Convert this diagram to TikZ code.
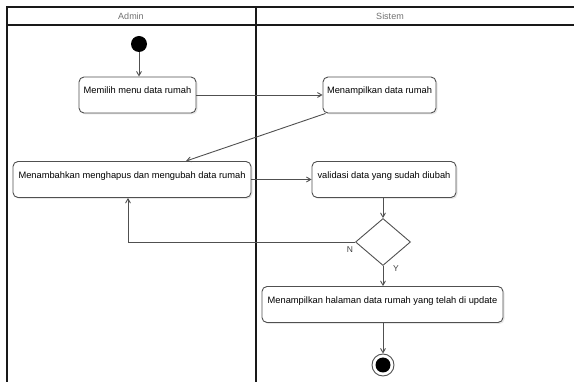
\documentclass[tikz,border=0pt]{standalone}
\usepackage{fontspec}
\setmainfont{Liberation Sans}
\usepackage{tikz}
\usetikzlibrary{shapes.geometric}
\usetikzlibrary{arrows}
\usetikzlibrary{shadows}
\definecolor{linegray}{HTML}{505050}
\definecolor{titlegray}{HTML}{707070}
\tikzset{
	action node/.style={draw=linegray,rounded corners=5pt,line width=0.9pt,fill=white,
		font=\fontsize{9.3}{11}\selectfont,text=black,inner xsep=2.5pt,inner ysep=4pt,
		text height=13pt,text depth=15pt,
		drop shadow={opacity=0.18,shadow xshift=1.5pt,shadow yshift=-1.5pt}},
	start node/.style={circle,fill=black,minimum size=16pt,inner sep=0pt},
	end node/.style={circle,draw=linegray,line width=0.9pt,fill=white,minimum size=22pt,inner sep=0pt,
		path picture={\fill[black] (path picture bounding box.center) circle (7.5pt);}},
	decision node/.style={diamond,draw=linegray,line width=0.9pt,fill=white,
		minimum width=55pt,minimum height=47pt,inner sep=0pt,aspect=1.17},
	lane/.style={line width=1.6pt,black!90},
	lane title/.style={font=\fontsize{9}{10}\selectfont,text=titlegray},
	guard/.style={font=\fontsize{8.5}{10}\selectfont,text=black!75}
}

\begin{document}
\begin{tikzpicture}[x=1pt,y=-1pt,->,>=angle 60,
	    flow/.style={draw=linegray,line width=0.9pt}]
	    \useasboundingbox (0,0) rectangle (574,382);
	    % swimlanes
	    \draw[lane,-] (7,382) -- (7,7) -- (574,7);
	    \draw[lane,-] (7,25) -- (574,25);
	    \draw[lane,-] (256,7) -- (256,382);
	    \node [lane title] (admin) at (131,16) {Admin};
	    \node [lane title] (sistem) at (390,16) {Sistem};
	    % actions
	    \node [start node] (start) at (139,44) {};
	    \node [action node,minimum width=117pt] (choose) at (137.5,95) {Memilih menu data rumah};
	    \node [action node,minimum width=113pt] (show) at (379.5,95) {Menampilkan data rumah};
	    \node [action node,minimum width=238pt] (edit) at (132,179.5) {Menambahkan menghapus dan mengubah data rumah};
	    \node [action node,minimum width=144pt] (valid) at (384,179.5) {validasi data yang sudah diubah};
	    \node [decision node] (check) at (383,242) {};
	    \node [action node,minimum width=241pt] (result) at (382.5,304.5) {Menampilkan halaman data rumah yang telah di update};
	    \node [end node] (stop) at (383,365) {};
	    % flows
	    \draw[flow] (start) -- (start |- choose.north);
	    \draw[flow] (choose) -- (show);
	    \draw[flow] ([xshift=3pt]show.south west) -- ([xshift=54pt]edit.north);
	    \draw[flow] (edit) -- (valid);
	    \draw[flow] (valid.south -| check) -- (check.north);
	    \draw[flow] (check.west) -| ([xshift=-4pt]edit.south);
	    \draw[flow] (check.south) -- (check.south |- result.north);
	    \draw[flow] (result.south -| stop) -- (stop.north);
	    \node [guard] (no) at (350,250) {N};
	    \node [guard] (yes) at (396,269) {Y};
\end{tikzpicture}
\end{document}
